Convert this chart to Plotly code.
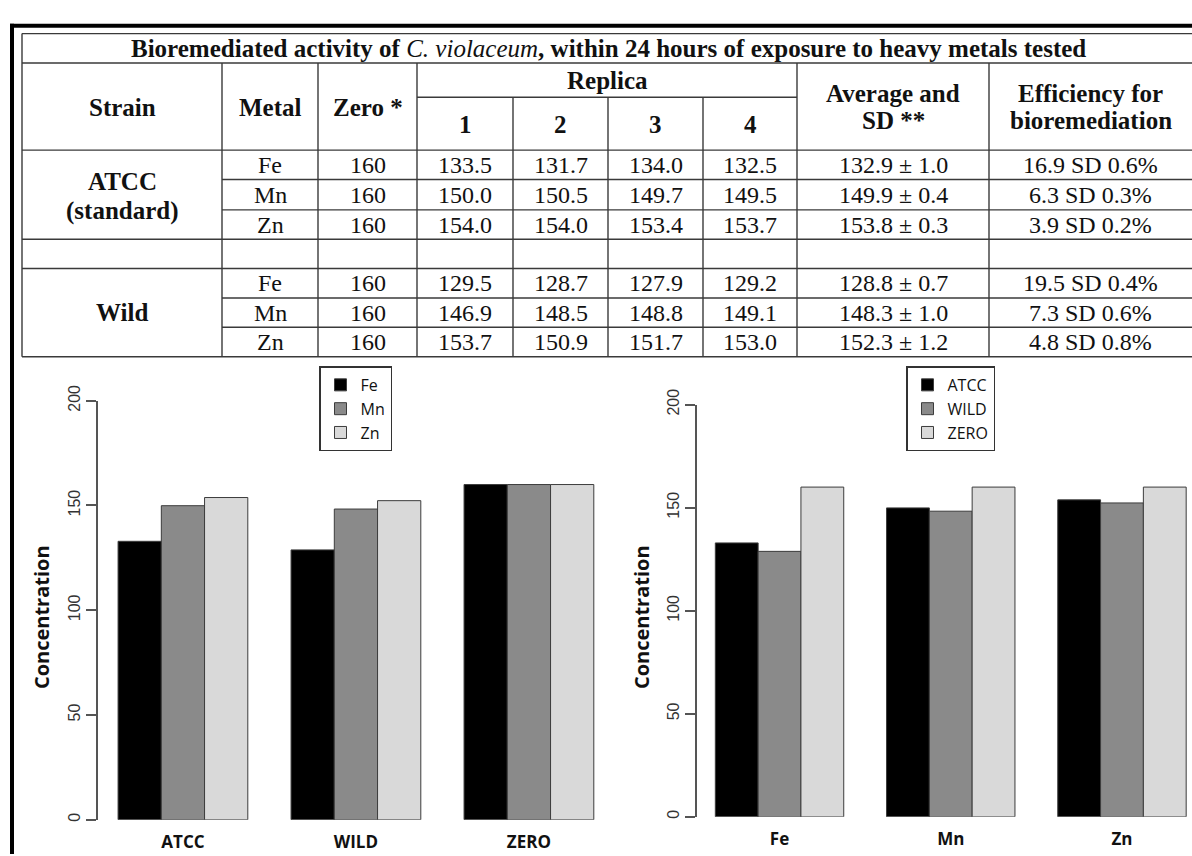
import plotly.graph_objects as go

W, H = 1192, 856

# ---------------- data ----------------
metals = ["Fe", "Mn", "Zn"]
zero_conc = [160, 160, 160]
atcc_rep1 = [133.5, 150.0, 154.0]
atcc_rep2 = [131.7, 150.5, 154.0]
atcc_rep3 = [134.0, 149.7, 153.4]
atcc_rep4 = [132.5, 149.5, 153.7]
wild_rep1 = [129.5, 146.9, 153.7]
wild_rep2 = [128.7, 148.5, 150.9]
wild_rep3 = [127.9, 148.8, 151.7]
wild_rep4 = [129.2, 149.1, 153.0]
atcc_avg = [132.9, 149.9, 153.8]
atcc_sd = [1.0, 0.4, 0.3]
wild_avg = [128.8, 148.3, 152.3]
wild_sd = [0.7, 1.0, 1.2]
atcc_eff = [16.9, 6.3, 3.9]
atcc_eff_sd = [0.6, 0.3, 0.2]
wild_eff = [19.5, 7.3, 4.8]
wild_eff_sd = [0.4, 0.6, 0.8]

strain_cats = ["ATCC", "WILD", "ZERO"]
metal_cats = ["Fe", "Mn", "Zn"]
y_ticks = [0, 50, 100, 150, 200]

# per-metal series for the left chart (x = strain)
fe_by_strain = [132.9, 128.8, 160]
mn_by_strain = [149.9, 148.3, 160]
zn_by_strain = [153.8, 152.3, 160]
# per-strain series for the right chart (x = metal)
atcc_by_metal = [132.9, 149.9, 153.8]
wild_by_metal = [128.8, 148.3, 152.3]
zero_by_metal = [160, 160, 160]

title_html = ("<b>Bioremediated activity of </b><i>C. violaceum</i>"
              "<b>, within 24 hours of exposure to heavy metals tested</b>")

# ---------------- helpers ----------------
def X(p):
    return p / W

def Y(p):
    return 1 - p / H

shapes = []
annotations = []
LINE = "#3a3a3a"

def hline(y, x0, x1, color=LINE, width=1.4):
    shapes.append(dict(type="line", xref="paper", yref="paper",
                       x0=X(x0), x1=X(x1), y0=Y(y), y1=Y(y),
                       line=dict(color=color, width=width)))

def vline(x, y0, y1, color=LINE, width=1.4):
    shapes.append(dict(type="line", xref="paper", yref="paper",
                       x0=X(x), x1=X(x), y0=Y(y0), y1=Y(y1),
                       line=dict(color=color, width=width)))

SERIF = "Liberation Serif"

def text(cx, cy, s, size=24, bold=False, family=SERIF, color="#111", angle=0):
    annotations.append(dict(xref="paper", yref="paper", x=X(cx), y=Y(cy),
                            text=("<b>%s</b>" % s) if bold else s,
                            showarrow=False, xanchor="center", yanchor="middle",
                            textangle=angle,
                            font=dict(family=family, size=size, color=color)))

def text_lines(cx, cy, lines, gap, **kw):
    n = len(lines)
    for i, s in enumerate(lines):
        text(cx, cy + (i - (n - 1) / 2) * gap, s, **kw)

# ---------------- page border ----------------
hline(10, 10, W, color="#000", width=4)
vline(12, 8, H, color="#000", width=4)

# ---------------- table grid ----------------
L, R = 22, W
cols = [22, 222, 318, 417, 513, 608, 703, 797, 989]
t_top, t_title, t_rep, t_head = 18, 48, 83, 137
row_edges = [137, 167, 198, 228, 258, 288, 318, 348]

for y in [t_top, t_title, t_head, 228, 258, 348]:
    hline(y, L, R)
for y in [167, 198, 288, 318]:
    hline(y, 222, R)
hline(t_rep, 417, 797)
vline(22, t_top, 348)
for x in [222, 318, 417, 797, 989]:
    vline(x, t_title, 348)
for x in [513, 608, 703]:
    vline(x, t_rep, 348)

# ---------------- table text ----------------
annotations.append(dict(xref="paper", yref="paper", x=X((L + R) / 2 + 1), y=Y(33),
                        text=title_html, showarrow=False, xanchor="center",
                        yanchor="middle", font=dict(family=SERIF, size=25, color="#111")))
hy = 93
HB = dict(bold=True, size=25)
text((22 + 222) / 2, hy, "Strain", **HB)
text((222 + 318) / 2, hy, "Metal", **HB)
text((318 + 417) / 2, hy, "Zero *", **HB)
text((417 + 797) / 2, 66, "Replica", **HB)
for i, lab in enumerate(["1", "2", "3", "4"]):
    text((cols[3 + i] + cols[4 + i]) / 2, 111, lab, **HB)
text_lines((797 + 989) / 2, hy, ["Average and", "SD **"], 27, **HB)
text_lines((989 + R) / 2, hy, ["Efficiency for", "bioremediation"], 27, **HB)

text_lines((22 + 222) / 2, 184, ["ATCC", "(standard)"], 30, **HB)
text((22 + 222) / 2, (258 + 348) / 2, "Wild", **HB)

def data_rows(first_row, reps, avg, sd, eff, effsd):
    for k in range(3):
        cy = (row_edges[first_row + k] + row_edges[first_row + k + 1]) / 2
        text((222 + 318) / 2, cy, metals[k])
        text((318 + 417) / 2, cy, str(zero_conc[k]))
        for j, rep in enumerate(reps):
            text((cols[3 + j] + cols[4 + j]) / 2, cy, "%.1f" % rep[k])
        text((797 + 989) / 2, cy, "%.1f ± %.1f" % (avg[k], sd[k]))
        text((989 + R) / 2, cy, "%.1f SD %.1f%%" % (eff[k], effsd[k]))

data_rows(0, [atcc_rep1, atcc_rep2, atcc_rep3, atcc_rep4], atcc_avg, atcc_sd, atcc_eff, atcc_eff_sd)
data_rows(4, [wild_rep1, wild_rep2, wild_rep3, wild_rep4], wild_avg, wild_sd, wild_eff, wild_eff_sd)

# ---------------- charts ----------------
fills = ["#000000", "#8a8a8a", "#d9d9d9"]
bar_line = dict(color="#3c3c3c", width=1)

fig = go.Figure()
for name, vals, c in zip(metals, [fe_by_strain, mn_by_strain, zn_by_strain], fills):
    fig.add_trace(go.Bar(x=strain_cats, y=vals, name=name, xaxis="x", yaxis="y",
                         marker=dict(color=c, line=bar_line), legend="legend"))
for name, vals, c in zip(["ATCC", "WILD", "ZERO"],
                         [atcc_by_metal, wild_by_metal, zero_by_metal], fills):
    fig.add_trace(go.Bar(x=metal_cats, y=vals, name=name, xaxis="x2", yaxis="y2",
                         marker=dict(color=c, line=bar_line), legend="legend2"))

SANS = "Open Sans"
xcommon = dict(showline=False, ticks="", showgrid=False, zeroline=False,
               tickfont=dict(family=SANS, size=17, color="#111", weight="bold"),
               ticklabelstandoff=10)
ycommon = dict(range=[0, 200], tickvals=y_ticks, showline=True, linecolor="#555",
               linewidth=1.5, ticks="outside", ticklen=10, tickcolor="#555",
               tickwidth=1.5, showgrid=False, zeroline=False, tickangle=-90,
               tickfont=dict(family="Liberation Sans", size=16, color="#333"))

text(41, 614, "Concentration", size=20, bold=True, family=SANS, angle=-90)
text(641, 614, "Concentration", size=20, bold=True, family=SANS, angle=-90)

legcommon = dict(xanchor="left", yanchor="top", bgcolor="white",
                 bordercolor="#333", borderwidth=1.5,
                 font=dict(family=SANS, size=16, color="#111"))

fig.update_layout(
    width=W, height=H, margin=dict(l=0, r=0, t=0, b=0),
    paper_bgcolor="white", plot_bgcolor="white",
    barmode="group", bargap=0.25, bargroupgap=0,
    xaxis=dict(domain=[X(98), X(613)], range=[-0.491, 2.486], anchor="y", **xcommon),
    yaxis=dict(domain=[Y(821), Y(393)], anchor="x", **ycommon),
    xaxis2=dict(domain=[X(697), 1.0], range=[-0.482, 2.409], anchor="y2", **xcommon),
    yaxis2=dict(domain=[Y(818), Y(397)], anchor="x2", **ycommon),
    legend=dict(x=X(319), y=Y(358), **legcommon),
    legend2=dict(x=X(906), y=Y(358), **legcommon),
    shapes=shapes, annotations=annotations,
    showlegend=True,
)

fig.write_html("out.html", config={"displayModeBar": False},
               post_script="document.body.style.margin='0';document.body.style.overflow='hidden';")
